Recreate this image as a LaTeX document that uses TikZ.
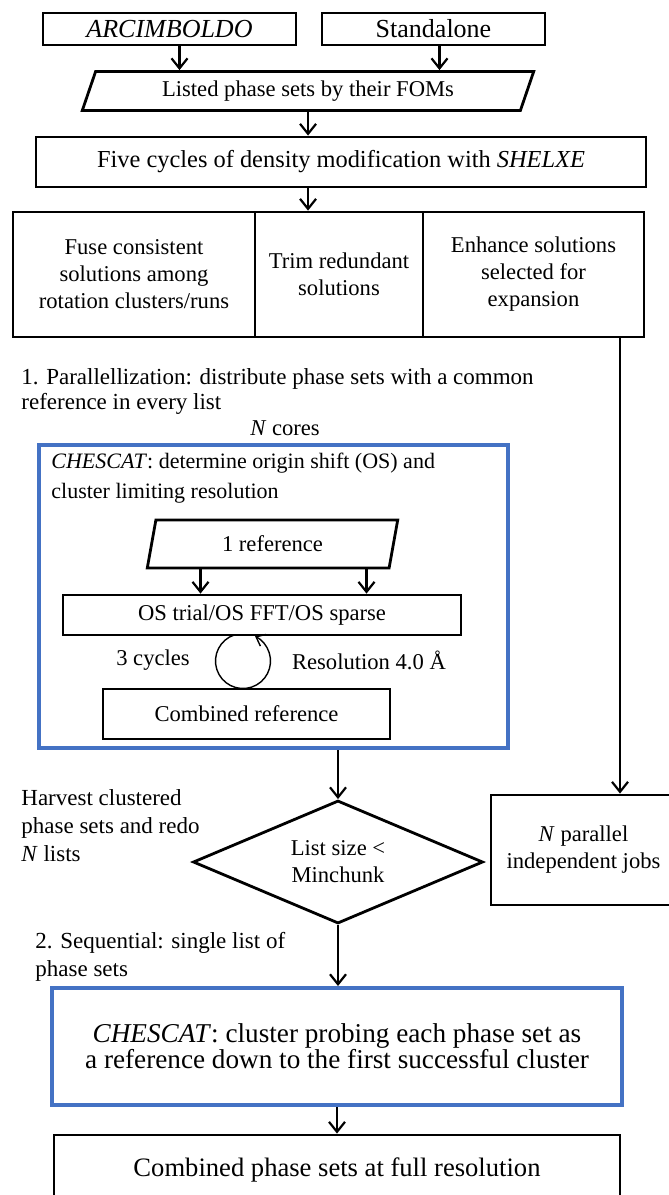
\documentclass[tikz,border=0pt]{standalone}
\usepackage{fontspec}
\setmainfont{Liberation Serif}
\usepackage{tikz}
\usetikzlibrary{arrows.meta, calc, shapes.geometric, positioning}
\definecolor{chesblue}{RGB}{68,114,196}

\begin{document}
\begin{tikzpicture}[x=0.5pt, y=-0.5pt,
    every node/.style={font=\fontsize{11.3}{13.5}\selectfont, inner sep=0pt, align=center},
    box/.style={draw, line width=1.4pt},
    bluebox/.style={draw=chesblue, line width=2pt},
    slantbox/.style={draw, line width=1.4pt, trapezium, trapezium stretches=true},
    arr/.style={line width=1.1pt, -{Straight Barb[length=5pt,width=8pt]}},
    cyclearc/.style={line width=0.7pt, -{Straight Barb[length=4pt,width=6.5pt]}}]
    \useasboundingbox (0,0) rectangle (669,1195);

    % inputs
    \node[box, minimum width=126.5pt, minimum height=16pt, font=\fontsize{13}{15}\selectfont\itshape] (arc) at (169.5,29) {ARCIMBOLDO};
    \node[box, minimum width=111.5pt, minimum height=16pt, font=\fontsize{13}{15}\selectfont] (std) at (433.5,29) {Standalone};
    \node[slantbox, trapezium left angle=66, trapezium right angle=114, minimum width=226pt, minimum height=19.5pt] (listed) at (308,91) {Listed phase sets by their FOMs};
    \draw[arr] ([xshift=5pt]arc.south) -- ([xshift=5pt]arc.south |- listed.north);
    \draw[arr] ([xshift=3pt]std.south) -- ([xshift=3pt]std.south |- listed.north);

    \node[box, minimum width=305pt, minimum height=25pt, font=\fontsize{12.2}{14}\selectfont] (five) at (341,162) {Five cycles of density modification with \textit{SHELXE}};
    \draw[arr] (listed.south) -- (listed.south |- five.north);

    % three treatments
    \node[box, minimum width=121pt, minimum height=62.5pt] (fuse) at (134,274.5) {Fuse consistent\\solutions among\\rotation clusters/runs};
    \node[box, minimum width=84pt, minimum height=62.5pt] (trim) at (339,274.5) {Trim redundant\\solutions};
    \node[box, minimum width=110.5pt, minimum height=62.5pt] (enh) at (533.5,274.5) {Enhance solutions\\selected for\\expansion};
    \draw[arr] (five.south -| listed.south) -- (trim.north -| listed.south);

    % parallel part
    \node[anchor=west, align=left, font=\fontsize{11.5}{12.5}\selectfont] (para) at (21,391) {1. Parallellization: distribute phase sets with a common\\reference in every list};
    \node (ncores) at (285,428) {\textit{N} cores};
    \node[bluebox, minimum width=234.5pt, minimum height=151.5pt] (ches) at (273.5,596.5) {};
    \node[anchor=west, align=left, font=\fontsize{11}{15}\selectfont] (chestxt) at (51,478) {\textit{CHESCAT}: determine origin shift (OS) and\\cluster limiting resolution};
    \node[slantbox, trapezium left angle=77, trapezium right angle=103, minimum width=125.5pt, minimum height=24pt] (ref) at (272.5,544) {1 reference};
    \node[box, minimum width=199pt, minimum height=20pt] (os) at (262,615) {OS trial/OS FFT/OS sparse};
    \draw[arr] ([xshift=-36pt]ref.south) -- ([xshift=-36pt]ref.south |- os.north);
    \draw[arr] ([xshift=47pt]ref.south) -- ([xshift=47pt]ref.south |- os.north);
    \coordinate (loopc) at (243,661);
    \draw[cyclearc] ($(loopc)+(-108:27.5)$) arc[start angle=-108, end angle=-424, radius=27.5];
    \node (cyc) at (153,660) {3 cycles};
    \node (res) at (369,660) {Resolution 4.0 Å};
    \node[box, minimum width=143.5pt, minimum height=25pt] (comb) at (246.5,714) {Combined reference};

    % decision
    \node[diamond, draw, line width=1.4pt, aspect=2.36, minimum width=145pt, minimum height=61.5pt] (size) at (338,862) {List size <\\Minchunk};
    \draw[arr] (ches.south -| size.north) -- (size.north);
    \node[anchor=west, align=left, font=\fontsize{11.5}{14}\selectfont] (harv) at (21,826) {Harvest clustered\\phase sets and redo\\\textit{N} lists};
    \node[box, minimum width=92.5pt, minimum height=55pt] (jobs) at (583.5,850) {\textit{N} parallel\\independent jobs};
    \coordinate (feed) at (620,0);
    \draw[arr] (enh.south -| feed) -- (jobs.north -| feed);

    % sequential part
    \node[anchor=west, align=left, font=\fontsize{11.5}{14}\selectfont] (seq) at (35,957) {2. Sequential: single list of\\phase sets};
    \node[bluebox, minimum width=285pt, minimum height=58.5pt, font=\fontsize{13.6}{13}\selectfont] (probe) at (337,1046.5) {\textit{CHESCAT}: cluster probing each phase set as\\a reference down to the first successful cluster};
    \draw[arr] (size.south) -- (size.south |- probe.north);
    \node[box, minimum width=283pt, minimum height=35pt, font=\fontsize{13.3}{15}\selectfont] (final) at (337,1170) {Combined phase sets at full resolution};
    \draw[arr] (probe.south) -- (final.north);
\end{tikzpicture}
\end{document}
